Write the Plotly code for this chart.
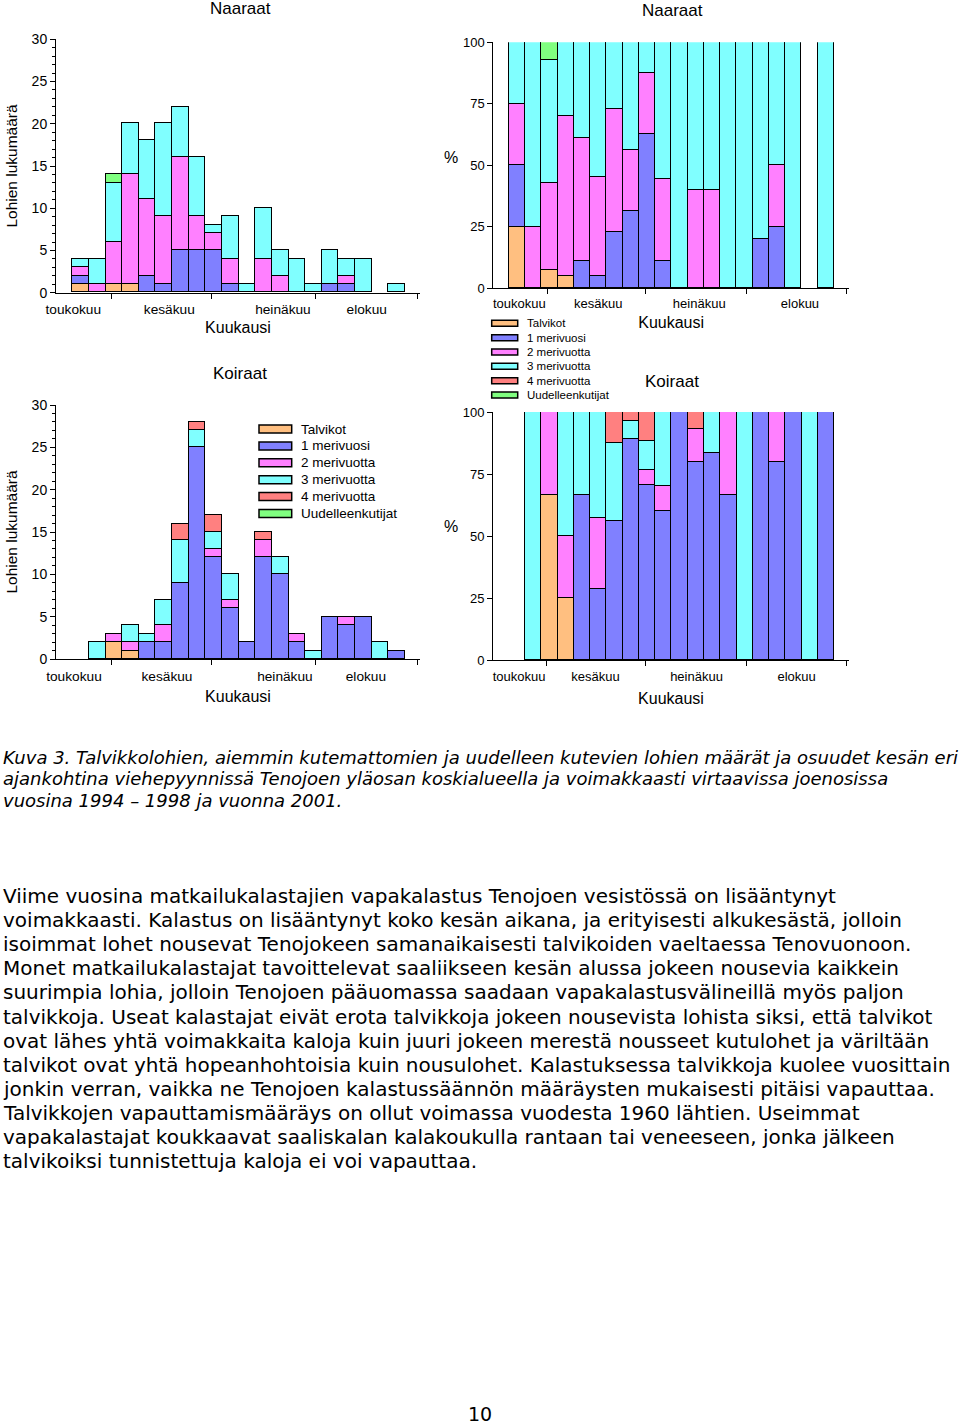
import plotly.graph_objects as go

# ---------------- data ----------------
series = ["Talvikot", "1 merivuosi", "2 merivuotta", "3 merivuotta", "4 merivuotta", "Uudelleenkutijat"]
colors = ["#FFBF80", "#8080FF", "#FF80FF", "#80FFFF", "#FF8080", "#80FF80"]
slots = list(range(20))  # 5-day periods, May -> August

# Naaraat (females), counts per period
n_talvikot = [1, 0, 1, 1, 0, 0, 0, 0, 0, 0, 0, 0, 0, 0, 0, 0, 0, 0, 0, 0]
n_1mv      = [1, 0, 0, 0, 2, 1, 5, 5, 5, 1, 0, 0, 0, 0, 0, 1, 1, 0, 0, 0]
n_2mv      = [1, 1, 5, 13, 9, 8, 11, 4, 2, 3, 0, 4, 2, 0, 0, 0, 1, 0, 0, 0]
n_3mv      = [1, 3, 7, 6, 7, 11, 6, 7, 1, 5, 1, 6, 3, 4, 1, 4, 2, 4, 0, 1]
n_4mv      = [0, 0, 0, 0, 0, 0, 0, 0, 0, 0, 0, 0, 0, 0, 0, 0, 0, 0, 0, 0]
n_uud      = [0, 0, 1, 0, 0, 0, 0, 0, 0, 0, 0, 0, 0, 0, 0, 0, 0, 0, 0, 0]

# Koiraat (males), counts per period
k_talvikot = [0, 0, 2, 1, 0, 0, 0, 0, 0, 0, 0, 0, 0, 0, 0, 0, 0, 0, 0, 0]
k_1mv      = [0, 0, 0, 0, 2, 2, 9, 25, 12, 6, 2, 12, 10, 2, 0, 5, 4, 5, 0, 1]
k_2mv      = [0, 0, 1, 1, 0, 2, 0, 0, 1, 1, 0, 2, 0, 1, 0, 0, 1, 0, 0, 0]
k_3mv      = [0, 2, 0, 2, 1, 3, 5, 2, 2, 3, 0, 0, 2, 0, 1, 0, 0, 0, 2, 0]
k_4mv      = [0, 0, 0, 0, 0, 0, 2, 1, 2, 0, 0, 1, 0, 0, 0, 0, 0, 0, 0, 0]
k_uud      = [0, 0, 0, 0, 0, 0, 0, 0, 0, 0, 0, 0, 0, 0, 0, 0, 0, 0, 0, 0]

month_labels = ["toukokuu", "kesäkuu", "heinäkuu", "elokuu"]
month_edges = [1.83, 7.88, 14.1, 20.25]
label_pos_tl = [-0.44, 5.33, 12.16, 17.2]
label_pos_tr = [0.12, 4.98, 11.2, 17.4]
label_pos_bl = [-0.4, 5.19, 12.28, 17.15]
label_pos_br = [0.12, 4.82, 11.04, 17.2]

caption_lines = [
    "Kuva 3. Talvikkolohien, aiemmin kutemattomien ja uudelleen kutevien lohien määrät ja osuudet kesän eri",
    "ajankohtina viehepyynnissä Tenojoen yläosan koskialueella ja voimakkaasti virtaavissa joenosissa",
    "vuosina 1994 – 1998 ja vuonna 2001.",
]
body_lines = [
    "Viime vuosina matkailukalastajien vapakalastus Tenojoen vesistössä on lisääntynyt",
    "voimakkaasti. Kalastus on lisääntynyt koko kesän aikana, ja erityisesti alkukesästä, jolloin",
    "isoimmat lohet nousevat Tenojokeen samanaikaisesti talvikoiden vaeltaessa Tenovuonoon.",
    "Monet matkailukalastajat tavoittelevat saaliikseen kesän alussa jokeen nousevia kaikkein",
    "suurimpia lohia, jolloin Tenojoen pääuomassa saadaan vapakalastusvälineillä myös paljon",
    "talvikkoja. Useat kalastajat eivät erota talvikkoja jokeen nousevista lohista siksi, että talvikot",
    "ovat lähes yhtä voimakkaita kaloja kuin juuri jokeen merestä nousseet kutulohet ja väriltään",
    "talvikot ovat yhtä hopeanhohtoisia kuin nousulohet. Kalastuksessa talvikkoja kuolee vuosittain",
    "jonkin verran, vaikka ne Tenojoen kalastussäännön määräysten mukaisesti pitäisi vapauttaa.",
    "Talvikkojen vapauttamismääräys on ollut voimassa vuodesta 1960 lähtien. Useimmat",
    "vapakalastajat koukkaavat saaliskalan kalakoukulla rantaan tai veneeseen, jonka jälkeen",
    "talvikoiksi tunnistettuja kaloja ei voi vapauttaa.",
]

# ---------------- helpers ----------------
W, H = 960, 1425
FONT = "Liberation Sans, Arial, sans-serif"


def px(x):
    return x / W


def py(y):
    return 1 - y / H


def percents(groups):
    totals = [sum(v) for v in zip(*groups)]
    return [[(v / t * 100 if t else 0) for v, t in zip(g, totals)] for g in groups]


def clean(vals):
    return [v if v else None for v in vals]


naaraat = [n_talvikot, n_1mv, n_2mv, n_3mv, n_4mv, n_uud]
koiraat = [k_talvikot, k_1mv, k_2mv, k_3mv, k_4mv, k_uud]

fig = go.Figure()
panels = [
    (naaraat, "x", "y"),
    (percents(naaraat), "x2", "y2"),
    (koiraat, "x3", "y3"),
    (percents(koiraat), "x4", "y4"),
]
for data, xa, ya in panels:
    for name, color, vals in zip(series, colors, data):
        fig.add_trace(go.Bar(
            x=slots, y=clean(vals), name=name, width=1,
            marker=dict(color=color, line=dict(color="black", width=1)),
            xaxis=xa, yaxis=ya, showlegend=False,
        ))


def tickfont(size):
    return dict(family=FONT, size=size, color="black")


def xaxis(dom, rng, labels_pos, anchor, label_shift, standoff, fs):
    return dict(
        domain=dom, range=rng, anchor=anchor, automargin=False,
        tickmode="array", tickvals=labels_pos, ticktext=month_labels,
        ticks="outside", ticklen=label_shift, tickcolor="rgba(0,0,0,0)",
        tickfont=tickfont(fs), showgrid=False, zeroline=False,
        showline=True, linecolor="black", linewidth=1,
        minor=dict(tickmode="array", tickvals=month_edges, ticks="outside",
                   ticklen=5, tickcolor="black", tickwidth=1, showgrid=False),
        title=dict(text="Kuukausi", font=dict(family=FONT, size=16, color="black"), standoff=standoff),
    )


def yaxis_count(dom, anchor):
    return dict(
        domain=dom, range=[0, 30], anchor=anchor, automargin=False,
        tickmode="linear", tick0=0, dtick=5,
        ticks="outside", ticklen=5, tickcolor="black", tickfont=tickfont(14),
        showgrid=False, zeroline=False, showline=True, linecolor="black", linewidth=1,
        minor=dict(dtick=1, ticks="outside", ticklen=3, tickcolor="black", showgrid=False),
        title=dict(text="Lohien lukumäärä", font=dict(family=FONT, size=15.5, color="black"), standoff=10),
    )


def yaxis_pct(dom, anchor):
    return dict(
        domain=dom, range=[0, 100], anchor=anchor, automargin=False,
        tickmode="linear", tick0=0, dtick=25,
        ticks="outside", ticklen=5, tickcolor="black", tickfont=tickfont(13),
        showgrid=False, zeroline=False, showline=True, linecolor="black", linewidth=1,
    )


fig.update_layout(
    template="none",
    width=W, height=H, margin=dict(l=0, r=0, t=0, b=0, pad=0, autoexpand=False),
    paper_bgcolor="white", plot_bgcolor="white",
    barmode="stack", bargap=0, showlegend=False,
    xaxis=xaxis([px(56), px(420)], [-1.48, 20.4], label_pos_tl, "y", 4, 5, 13.7),
    yaxis=yaxis_count([py(292.7), py(39.3)], "x"),
    xaxis2=xaxis([px(493.3), px(849)], [-1.48, 20.42], label_pos_tr, "y2", 3, 6, 13),
    yaxis2=yaxis_pct([py(288.3), py(42.3)], "x2"),
    xaxis3=xaxis([px(56), px(420)], [-1.48, 20.4], label_pos_bl, "y3", 5, 7, 13.7),
    yaxis3=yaxis_count([py(659), py(405)], "x3"),
    xaxis4=xaxis([px(493), px(849)], [-1.48, 20.42], label_pos_br, "y4", 4, 10, 13),
    yaxis4=yaxis_pct([py(660), py(412)], "x4"),
)

ann = []
# panel titles
for text, x, y in [("Naaraat", 240, 9), ("Naaraat", 672, 10), ("Koiraat", 240, 373), ("Koiraat", 672, 381)]:
    ann.append(dict(text=text, x=px(x), y=py(y), xref="paper", yref="paper", showarrow=False,
                    xanchor="center", yanchor="middle", font=dict(family=FONT, size=17, color="black")))
# percent axis titles
for y in (157, 526):
    ann.append(dict(text="%", x=px(451), y=py(y), xref="paper", yref="paper", showarrow=False,
                    xanchor="center", yanchor="middle", font=dict(family=FONT, size=16, color="black")))

# legends (built from series names / colours)
shapes = []
legend_specs = [
    # x0, x1 of swatch, swatch height, text x, first row y, row step, font size
    (491.7, 517.7, 6, 525, 323.3, 14.35, 11.5),
    (259, 291.7, 8, 299, 429, 16.9, 13.5),
]
for sx0, sx1, sh, tx, y0, step, fs in legend_specs:
    for i, (name, color) in enumerate(zip(series, colors)):
        yc = y0 + i * step
        shapes.append(dict(type="rect", xref="paper", yref="paper",
                           x0=px(sx0), x1=px(sx1), y0=py(yc + sh / 2), y1=py(yc - sh / 2),
                           fillcolor=color, line=dict(color="black", width=1.5)))
        ann.append(dict(text=name, x=px(tx), y=py(yc), xref="paper", yref="paper", showarrow=False,
                        xanchor="left", yanchor="middle", font=dict(family=FONT, size=fs, color="black")))

# caption and body text
TXT = "DejaVu Sans, Verdana, sans-serif"
for i, line in enumerate(caption_lines):
    ann.append(dict(text=line, x=px(1), y=py(757 + i * 21.5), xref="paper", yref="paper", showarrow=False,
                    xanchor="left", yanchor="middle",
                    font=dict(family=TXT, size=18.0, color="black", style="italic")))
for i, line in enumerate(body_lines):
    ann.append(dict(text=line, x=px(1), y=py(896 + i * 24.1), xref="paper", yref="paper", showarrow=False,
                    xanchor="left", yanchor="middle", font=dict(family=TXT, size=20.0, color="black")))
ann.append(dict(text="10", x=px(480), y=py(1414), xref="paper", yref="paper", showarrow=False,
                xanchor="center", yanchor="middle", font=dict(family=TXT, size=19, color="black")))

fig.update_layout(annotations=ann, shapes=shapes)
fig.write_html("out.html", config={"displayModeBar": False},
               post_script="document.body.style.margin='0';")
